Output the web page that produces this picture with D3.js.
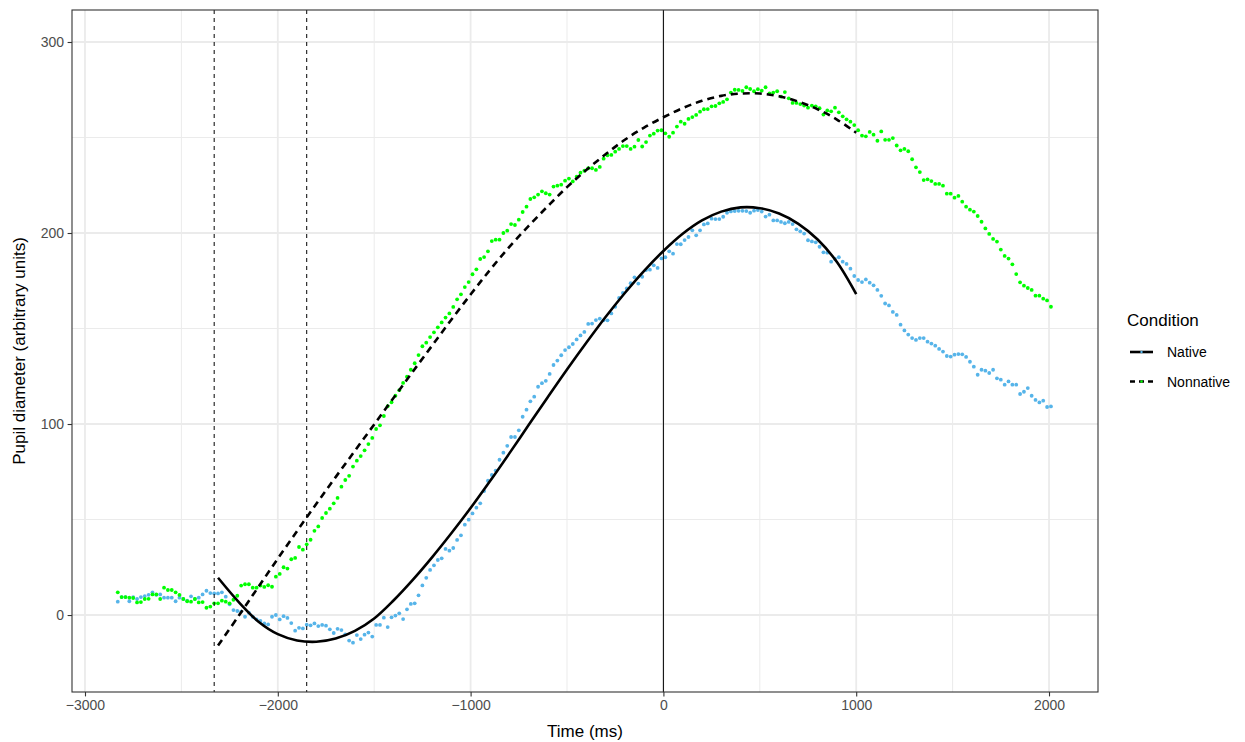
<!DOCTYPE html>
<html>
<head>
<meta charset="utf-8">
<script src="https://cdn.jsdelivr.net/npm/d3@7"></script>
<style>
  body { margin: 0; background: #fff; }
  svg text { font-family: "Liberation Sans", Arial, sans-serif; }
</style>
</head>
<body>
<div id="chart"></div>
<script>
// sampling grid of the pupil traces: -2830 ms to 2010 ms, one sample every 20 ms
const sampleStart = -2830;
const sampleStep = 20;

const nativeValues = [
  7.0, 9.4, 9.4, 7.2, 9.4, 8.4, 9.4, 9.9, 10.6, 11.9,
  10.6, 10.8, 9.1, 9.1, 9.1, 7.2, 9.1, 8.4, 7.5, 9.8,
  8.4, 9.1, 10.8, 12.7, 11.5, 11.3, 11.3, 11.9, 9.6, 5.6,
  2.6, 2.1, 1.8, -0.9, 1.2, -0.9, -2.3, -3.1, -4.4, -4.9,
  -0.9, 0.0, -2.3, -0.6, -1.5, -4.2, -8.2, -6.7, -7.0, -5.1,
  -5.4, -4.4, -5.8, -5.2, -5.6, -7.5, -9.4, -7.2, -7.9, -10.1,
  -13.4, -14.5, -10.5, -12.6, -10.3, -9.2, -11.3, -5.2, -5.2, -1.4,
  -6.3, -1.2, -0.3, 0.9, -2.1, 3.0, 5.8, 6.1, 10.3, 15.5,
  19.5, 23.6, 26.0, 28.8, 29.7, 34.6, 33.7, 35.1, 39.3, 41.7,
  47.3, 49.9, 53.2, 56.2, 58.5, 64.9, 70.3, 73.3, 75.6, 81.3,
  85.0, 88.6, 93.2, 93.2, 96.7, 103.8, 107.5, 111.9, 114.3, 119.5,
  121.4, 122.6, 126.2, 130.9, 133.2, 136.0, 138.7, 140.2, 141.9, 144.3,
  146.4, 148.2, 152.4, 152.6, 154.4, 155.2, 154.3, 154.3, 157.9, 161.4,
  166.0, 168.6, 171.0, 173.7, 176.8, 173.5, 177.1, 180.6, 180.8, 183.1,
  181.7, 186.7, 187.3, 190.4, 189.2, 194.2, 194.1, 196.3, 197.9, 201.4,
  198.8, 201.4, 204.5, 205.0, 207.5, 207.3, 207.3, 208.5, 210.6, 211.3,
  211.5, 211.6, 211.6, 211.5, 210.6, 211.7, 212.0, 211.2, 208.6, 209.6,
  206.6, 206.6, 205.8, 205.1, 205.8, 204.7, 201.9, 200.9, 199.7, 196.2,
  195.6, 195.1, 192.8, 189.9, 189.7, 185.0, 186.4, 187.3, 185.0, 183.8,
  181.3, 177.5, 175.4, 174.3, 175.7, 174.0, 172.6, 170.2, 167.1, 163.1,
  162.1, 158.7, 157.1, 152.0, 149.0, 146.8, 145.0, 144.0, 145.0, 145.0,
  143.1, 142.1, 141.0, 139.3, 137.9, 135.6, 135.3, 136.3, 136.6, 136.5,
  135.1, 132.6, 130.0, 125.8, 128.4, 127.9, 126.7, 128.4, 123.9, 123.2,
  120.6, 122.3, 120.6, 120.6, 115.7, 116.9, 118.8, 114.8, 112.6, 111.3,
  112.2, 108.9, 109.2
];

const nonnativeValues = [
  11.9, 9.4, 9.4, 9.1, 8.9, 6.6, 6.8, 8.4, 8.5, 10.8,
  10.8, 8.4, 14.3, 13.1, 13.1, 11.9, 10.5, 8.4, 7.2, 7.0,
  8.4, 6.6, 6.8, 3.8, 4.4, 6.1, 6.1, 7.5, 7.0, 6.1,
  8.0, 10.1, 15.4, 16.1, 16.1, 14.3, 14.3, 15.4, 14.7, 15.6,
  14.8, 20.1, 21.5, 25.0, 24.3, 29.2, 29.9, 35.6, 34.2, 37.0,
  39.4, 44.1, 46.4, 50.8, 53.4, 55.7, 58.5, 61.3, 67.2, 70.7,
  72.9, 77.7, 80.8, 83.2, 86.2, 89.5, 92.7, 97.4, 99.3, 104.2,
  109.3, 111.4, 114.8, 117.7, 121.5, 124.8, 128.4, 131.8, 136.1, 140.7,
  142.6, 145.5, 148.0, 150.6, 153.2, 155.7, 157.9, 161.3, 165.3, 167.9,
  171.7, 174.3, 178.4, 181.0, 186.4, 187.4, 190.4, 195.8, 196.5, 196.5,
  200.0, 201.2, 204.7, 204.2, 207.0, 211.0, 213.8, 217.8, 218.7, 220.1,
  221.8, 220.8, 220.1, 224.3, 224.8, 225.3, 227.4, 228.5, 227.0, 229.5,
  231.6, 232.6, 233.9, 233.9, 233.0, 234.6, 238.9, 240.7, 240.9, 242.6,
  244.0, 245.5, 245.5, 244.0, 245.2, 248.7, 245.3, 247.6, 251.0, 252.0,
  253.6, 253.8, 252.2, 250.4, 252.5, 255.7, 258.3, 257.2, 259.7, 260.7,
  261.8, 263.5, 264.8, 264.9, 266.3, 266.5, 267.9, 268.6, 270.0, 273.5,
  275.0, 274.9, 274.4, 276.3, 275.4, 274.2, 275.3, 274.5, 276.3, 273.1,
  273.5, 274.2, 271.4, 273.8, 270.5, 268.1, 268.1, 267.5, 266.7, 265.6,
  266.7, 266.3, 265.3, 262.0, 264.2, 263.7, 265.6, 263.2, 261.1, 259.5,
  258.3, 256.5, 253.8, 251.0, 250.6, 252.9, 251.5, 248.3, 253.2, 248.8,
  248.8, 249.7, 245.8, 243.3, 244.0, 242.8, 238.6, 234.4, 231.9, 227.7,
  228.1, 227.2, 225.7, 225.7, 224.8, 220.6, 220.6, 218.5, 219.4, 216.4,
  213.8, 212.2, 211.2, 208.9, 205.9, 202.4, 199.5, 196.9, 195.5, 191.3,
  188.0, 186.6, 183.6, 178.5, 174.2, 172.4, 171.2, 170.2, 167.2, 167.2,
  165.6, 164.7, 161.4
];

// fitted curves
const fitTimes = [-2310, -2200, -2100, -2000, -1900, -1800, -1700, -1600, -1500,
  -1400, -1300, -1200, -1100, -1000, -900, -800, -700, -600, -500,
  -400, -300, -200, -100, 0, 100, 200, 300, 400, 500,
  600, 700, 800, 900, 1000];
const nativeFit = [19.5, 6.5, -3.5, -10.0, -13.3, -14.0, -12.3, -8.3, -1.8,
  7.6, 18.4, 30.2, 42.8, 56.0, 70.0, 84.5, 99.3, 114.0, 128.5,
  142.5, 156.0, 168.6, 180.2, 190.6, 199.6, 206.6, 211.2, 213.4, 213.0,
  210.2, 204.8, 196.6, 184.8, 168.0];
const nonnativeFit = [-16.0, 0.0, 14.8, 29.5, 44.0, 58.2, 72.2, 86.0, 99.8,
  113.6, 127.4, 141.0, 154.6, 167.8, 180.6, 192.6, 203.6, 214.0, 224.0,
  233.0, 241.2, 248.8, 255.2, 260.6, 265.4, 269.2, 271.8, 273.0, 273.0,
  271.6, 268.8, 264.8, 259.4, 252.5];

const markerTimes = [-2330, -1850];
const xTicks = [-3000, -2000, -1000, 0, 1000, 2000];
const xMinor = [-2500, -1500, -500, 500, 1500];
const yTicks = [0, 100, 200, 300];
const yMinor = [50, 150, 250];
const conditions = ["Native", "Nonnative"];
const pointColors = { Native: "#56B4E9", Nonnative: "#00FF00" };
const lineDash = { Native: null, Nonnative: "7,5" };

const times = d3.range(nativeValues.length).map(i => sampleStart + i * sampleStep);

const dimension = {
  width: 1245,
  height: 742,
  panel: { left: 72, right: 1098, top: 10, bottom: 692 }
};

const svg = d3.select("#chart").append("svg")
  .attr("width", dimension.width)
  .attr("height", dimension.height);

const x = d3.scaleLinear()
  .domain([-3067.4, 2254.1])
  .range([dimension.panel.left, dimension.panel.right]);
const y = d3.scaleLinear()
  .domain([-40.3, 316.75])
  .range([dimension.panel.bottom, dimension.panel.top]);

const grid = svg.append("g");
grid.selectAll(".xminor").data(xMinor).join("line")
  .attr("x1", d => x(d)).attr("x2", d => x(d))
  .attr("y1", dimension.panel.top).attr("y2", dimension.panel.bottom)
  .attr("stroke", "#ebebeb").attr("stroke-width", 1);
grid.selectAll(".yminor").data(yMinor).join("line")
  .attr("y1", d => y(d)).attr("y2", d => y(d))
  .attr("x1", dimension.panel.left).attr("x2", dimension.panel.right)
  .attr("stroke", "#ebebeb").attr("stroke-width", 1);
grid.selectAll(".xmajor").data(xTicks).join("line")
  .attr("x1", d => x(d)).attr("x2", d => x(d))
  .attr("y1", dimension.panel.top).attr("y2", dimension.panel.bottom)
  .attr("stroke", "#ebebeb").attr("stroke-width", 1.8);
grid.selectAll(".ymajor").data(yTicks).join("line")
  .attr("y1", d => y(d)).attr("y2", d => y(d))
  .attr("x1", dimension.panel.left).attr("x2", dimension.panel.right)
  .attr("stroke", "#ebebeb").attr("stroke-width", 1.8);

// points
const series = [
  { name: "Native", values: nativeValues },
  { name: "Nonnative", values: nonnativeValues }
];
series.forEach(s => {
  svg.append("g").selectAll("circle")
    .data(s.values)
    .join("circle")
    .attr("cx", (d, i) => x(times[i]))
    .attr("cy", d => y(d))
    .attr("r", 1.9)
    .attr("fill", pointColors[s.name]);
});

// vertical reference lines
svg.selectAll(".marker").data(markerTimes).join("line")
  .attr("x1", d => x(d)).attr("x2", d => x(d))
  .attr("y1", dimension.panel.top).attr("y2", dimension.panel.bottom)
  .attr("stroke", "#000").attr("stroke-width", 1)
  .attr("stroke-dasharray", "4,4");
svg.append("line")
  .attr("x1", x(0)).attr("x2", x(0))
  .attr("y1", dimension.panel.top).attr("y2", dimension.panel.bottom)
  .attr("stroke", "#000").attr("stroke-width", 1);

// fitted curves
const lineGenerator = d3.line()
  .x(d => x(d[0]))
  .y(d => y(d[1]))
  .curve(d3.curveCatmullRom.alpha(0.5));
[["Native", nativeFit], ["Nonnative", nonnativeFit]].forEach(([name, vals]) => {
  svg.append("path")
    .attr("d", lineGenerator(fitTimes.map((t, i) => [t, vals[i]])))
    .attr("fill", "none")
    .attr("stroke", "#000")
    .attr("stroke-width", 2.6)
    .attr("stroke-dasharray", lineDash[name]);
});

// panel border
svg.append("rect")
  .attr("x", dimension.panel.left).attr("y", dimension.panel.top)
  .attr("width", dimension.panel.right - dimension.panel.left)
  .attr("height", dimension.panel.bottom - dimension.panel.top)
  .attr("fill", "none").attr("stroke", "#333").attr("stroke-width", 1.1);

// axes
const xAxis = svg.append("g")
  .attr("transform", `translate(0,${dimension.panel.bottom})`)
  .call(d3.axisBottom(x).tickValues(xTicks).tickSize(4.4).tickPadding(3.5).tickFormat(d3.format("d")));
const yAxis = svg.append("g")
  .attr("transform", `translate(${dimension.panel.left},0)`)
  .call(d3.axisLeft(y).tickValues(yTicks).tickSize(4.4).tickPadding(3.5));
[xAxis, yAxis].forEach(a => {
  a.select(".domain").remove();
  a.selectAll(".tick line").attr("stroke", "#333").attr("stroke-width", 1.1);
  a.selectAll(".tick text").attr("fill", "#4d4d4d").style("font-size", "14px");
});
xAxis.selectAll(".tick text").text(d => d < 0 ? "\u2212" + Math.abs(d) : d);

svg.append("text")
  .attr("x", (dimension.panel.left + dimension.panel.right) / 2)
  .attr("y", 737)
  .attr("text-anchor", "middle")
  .style("font-size", "17px")
  .text("Time (ms)");
svg.append("text")
  .attr("transform", `translate(25,${(dimension.panel.top + dimension.panel.bottom) / 2}) rotate(-90)`)
  .attr("text-anchor", "middle")
  .style("font-size", "17px")
  .text("Pupil diameter (arbitrary units)");

// legend
const legend = svg.append("g");
legend.append("text")
  .attr("x", 1127).attr("y", 326)
  .style("font-size", "17px")
  .text("Condition");
conditions.forEach((c, i) => {
  const ly = 352 + i * 29.5;
  legend.append("line")
    .attr("x1", 1130).attr("x2", 1153)
    .attr("y1", ly).attr("y2", ly)
    .attr("stroke", "#000").attr("stroke-width", 2.6)
    .attr("stroke-dasharray", c === "Nonnative" ? "5,4" : null);
  legend.append("circle")
    .attr("cx", 1141.5).attr("cy", ly).attr("r", 1.2)
    .attr("fill", pointColors[c]);
  legend.append("text")
    .attr("x", 1167).attr("y", ly + 5)
    .style("font-size", "14px")
    .text(c);
});
</script>
</body>
</html>
